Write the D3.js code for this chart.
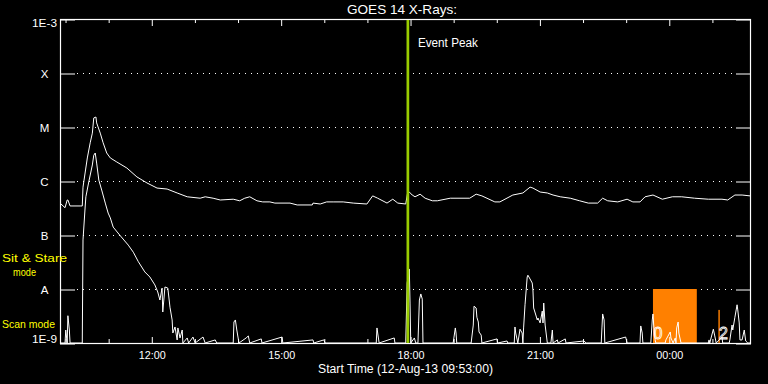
<!DOCTYPE html>
<html><head><meta charset="utf-8">
<script src="https://cdn.jsdelivr.net/npm/d3@7"></script>
<style>
html,body{margin:0;padding:0;background:#000;}
svg{display:block;background:#000;}
text{font-family:"Liberation Sans",Arial,sans-serif;}
</style></head><body>
<svg id="chart" width="768" height="384"></svg>
<script>
// ---------------- data ----------------
const titleText = "GOES 14 X-Rays:";
const startDate = [2013, 7, 12, 9, 53];   // 12-Aug-13 09:53
const endDate   = [2013, 7, 13, 1, 53];   // 13-Aug-13 01:53

// Long channel (1-8 A) flux, W/m^2
const longChannel = [
 ["09:53",3.9e-7],["10:00",3.2e-7],["10:03",4.45e-7],["10:04",4.45e-7],["10:07",3.45e-7],["10:21",3.45e-7],
 ["10:24",3.45e-7],["10:25",7.7e-7],["10:31",2.67e-6],["10:35",5.1e-6],["10:38",7.7e-6],["10:40",1.47e-5],
 ["10:43",1.53e-5],["10:44",1.19e-5],["10:49",7.7e-6],["10:53",5.1e-6],["10:58",3.3e-6],["11:03",2.67e-6],
 ["11:12",2.25e-6],["11:26",1.74e-6],["11:40",1.19e-6],["11:54",9.2e-7],["12:08",7.4e-7],["12:22",7.1e-7],
 ["12:36",6.0e-7],["12:50",5.1e-7],["13:08",4.8e-7],["13:15",5.1e-7],["13:26",4.8e-7],["13:36",4.45e-7],
 ["13:54",4.6e-7],["14:03",4.3e-7],["14:10",4.8e-7],["14:17",5.1e-7],["14:27",4.3e-7],["14:35",4.1e-7],
 ["14:45",4.1e-7],["14:52",3.9e-7],["15:13",3.9e-7],["15:23",3.6e-7],["15:44",3.6e-7],["15:45",3.9e-7],
 ["15:55",3.75e-7],["16:04",4.1e-7],["16:13",4.1e-7],["16:27",4.1e-7],["16:41",3.9e-7],["17:00",3.75e-7],
 ["17:08",5.3e-7],["17:15",4.8e-7],["17:28",3.9e-7],["17:36",4.6e-7],["17:43",3.9e-7],["17:54",3.75e-7],
 ["17:57",6.5e-7],["17:59",6.25e-7],["18:03",5.5e-7],["18:07",5.1e-7],["18:14",5.7e-7],["18:21",4.8e-7],
 ["18:31",4.3e-7],["18:38",4.3e-7],["18:56",4.8e-7],["19:23",4.8e-7],["19:32",5.7e-7],["19:40",5.3e-7],
 ["19:58",4.1e-7],["20:05",4.1e-7],["20:23",5.5e-7],["20:37",6.0e-7],["20:47",7.7e-7],["20:51",7.4e-7],
 ["21:01",6.25e-7],["21:11",6.0e-7],["21:19",5.5e-7],["21:29",5.1e-7],["21:43",4.8e-7],["21:56",4.3e-7],
 ["22:08",3.9e-7],["22:21",3.9e-7],["22:28",4.8e-7],["22:35",4.3e-7],["22:49",4.1e-7],["23:02",4.6e-7],
 ["23:10",4.1e-7],["23:20",4.1e-7],["23:27",5.1e-7],["23:38",5.5e-7],["23:51",4.6e-7],["00:05",5.1e-7],
 ["00:18",5.1e-7],["00:36",4.8e-7],["00:55",4.6e-7],["01:14",4.6e-7],["01:22",4.45e-7],["01:32",5.5e-7],
 ["01:42",5.5e-7],["01:53",5.3e-7]
];

// Short channel (0.5-4 A) flux, W/m^2 (1e-9 = at/below the bottom of the plot)
const shortChannel = [
 ["09:53",1e-9],["10:00",1e-9],["10:01",1.74e-9],["10:03",1e-9],["10:04",3.2e-9],["10:06",1.74e-9],["10:07",1e-9],
 ["10:22",1e-9],["10:24",1e-9],["10:25",8.1e-8],["10:28",3.3e-7],["10:29",5.1e-7],["10:33",9.6e-7],["10:38",1.98e-6],
 ["10:40",3.0e-6],["10:42",3.3e-6],["10:44",2.15e-6],["10:47",1.04e-6],["10:51",6.8e-7],["10:56",3.9e-7],
 ["11:00",2.55e-7],["11:03",2.07e-7],["11:07",1.4e-7],["11:16",1.0e-7],["11:28",6.5e-8],["11:35",4.8e-8],
 ["11:42",3.2e-8],["11:51",2.07e-8],["11:58",1.67e-8],["12:05",1.19e-8],["12:09",8.8e-9],["12:12",6.25e-9],
 ["12:15",1.04e-8],["12:16",3.75e-9],["12:19",1.09e-8],["12:23",1.04e-8],["12:26",4.6e-9],["12:29",2.67e-9],
 ["12:30",1.53e-9],["12:33",1.98e-9],["12:36",1.14e-9],["12:37",1.9e-9],["12:40",1.24e-9],["12:43",1.74e-9],
 ["12:44",1e-9],["12:50",1.24e-9],["12:52",1e-9],["12:58",1.29e-9],["13:01",1e-9],["13:12",1.29e-9],["13:15",1e-9],
 ["13:29",1.14e-9],["13:31",1e-9],["13:54",1e-9],["13:55",2.45e-9],["13:57",2.67e-9],["13:59",1.74e-9],["14:02",1e-9],
 ["14:12",1.24e-9],["14:15",1.35e-9],["14:17",1e-9],["14:33",1.19e-9],["14:34",1e-9],["15:02",1.29e-9],["15:03",1e-9],
 ["15:45",1.14e-9],["15:46",1e-9],["16:00",1.14e-9],["16:02",1e-9],["17:13",1e-9],["17:14",1.9e-9],["17:15",1.53e-9],
 ["17:17",1e-9],["17:38",1.24e-9],["17:39",1e-9],["17:54",1e-9],["17:56",1.29e-8],["17:59",2.35e-8],["18:00",5.5e-9],
 ["18:01",1e-9],["18:06",1.24e-9],["18:08",1e-9],["18:11",1e-9],["18:13",6.25e-9],["18:15",8.1e-9],["18:17",6.5e-9],
 ["18:18",1e-9],["19:00",1e-9],["19:03",1.9e-9],["19:04",1.53e-9],["19:05",1e-9],["19:25",1e-9],["19:28",2.15e-9],
 ["19:29",4.8e-9],["19:32",4.45e-9],["19:33",3.0e-9],["19:35",2.45e-9],["19:36",1.6e-9],["19:39",1.4e-9],["19:40",1e-9],
 ["20:01",1.19e-9],["20:02",1e-9],["20:15",1.09e-9],["20:16",1e-9],["20:25",1e-9],["20:26",1.98e-9],["20:27",1.53e-9],
 ["20:30",1e-9],["20:33",1.8e-9],["20:36",1.53e-9],["20:37",1e-9],["20:38",1.9e-9],["20:40",5.1e-9],["20:43",1.67e-8],
 ["20:44",1.8e-8],["20:47",1.53e-8],["20:50",1.29e-8],["20:51",9.6e-9],["20:52",4.45e-9],["20:55",3.3e-9],
 ["20:57",2.67e-9],["20:58",2.9e-9],["21:01",2.35e-9],["21:04",3.9e-9],["21:05",2.35e-9],["21:06",5.5e-9],
 ["21:08",2.15e-9],["21:11",1e-9],["21:16",1e-9],["21:18",1.74e-9],["21:19",1e-9],["21:25",1.14e-9],["21:26",1e-9],
 ["21:36",1.19e-9],["21:37",1e-9],["22:02",1.09e-9],["22:05",1e-9],["22:26",1e-9],["22:27",1.9e-9],["22:28",3.45e-9],
 ["22:30",2.67e-9],["22:31",1e-9],["23:00",1.29e-9],["23:02",1e-9],["23:20",1e-9],["23:21",2.07e-9],["23:23",1.53e-9],
 ["23:24",1e-9],["23:35",1e-9],["23:37",2.67e-9],["23:38",3.45e-9],["23:39",2.15e-9],["23:41",1.14e-9],["23:42",1e-9],
 ["23:55",1e-9],["23:56",1.14e-9],["00:02",1.6e-9],["00:03",1.24e-9],["00:06",1e-9],["00:09",1.24e-9],["00:10",1e-9],
 ["00:11",1.9e-9],["00:13",2.45e-9],["00:14",1.53e-9],["00:17",1e-9],["00:55",1e-9],["00:56",1.14e-9],["00:57",1e-9],
 ["01:02",1.8e-9],["01:04",1.35e-9],["01:06",1e-9],["01:14",1.29e-9],["01:15",1e-9],["01:24",1e-9],["01:25",1.14e-9],
 ["01:28",2.15e-9],["01:29",1.74e-9],["01:32",3.0e-9],["01:35",5.1e-9],["01:36",4.1e-9],["01:38",2.35e-9],
 ["01:39",1.14e-9],["01:42",1.14e-9],["01:45",1.74e-9],["01:47",1.09e-9],["01:50",1e-9],["01:53",1e-9]
];

const yTickValues = [1e-9, 1e-8, 1e-7, 1e-6, 1e-5, 1e-4, 1e-3];
const yTickLabels = ["1E-9", "A", "B", "C", "M", "X", "1E-3"];
const gridLevels  = [1e-8, 1e-7, 1e-6, 1e-5, 1e-4];

const eventPeakTime  = "17:57";
const eventPeakLabel = "Event Peak";

// scan-mode periods
const scanStarts = ["23:38", "01:09"];
const scanEnds   = ["00:39", "01:11"];
const scanLevels = [1e-8, 4.1e-9];
const scanLabels = ["0", "2"];

// ---------------- chart ----------------
const svg = d3.select("#chart");
const parseT = s => { const [h, m] = s.split(":").map(Number); return new Date(2013, 7, h < 9 ? 13 : 12, h, m); };
const t0 = new Date(...startDate), t1 = new Date(...endDate);

const L = 60, R = 750, T = 19, B = 343;
const x = d3.scaleTime().domain([t0, t1]).range([L, R]);
const y = d3.scaleLog().domain([1e-9, 1e-3]).range([B, T]).clamp(true);

svg.append("defs").append("clipPath").attr("id", "plot")
  .append("rect").attr("x", L).attr("y", T).attr("width", R - L).attr("height", B - T + 1);

// dotted grid lines
svg.append("g").selectAll("line").data(gridLevels).join("line")
  .attr("x1", 77).attr("x2", 736)
  .attr("y1", d => Math.round(y(d)) + 0.5).attr("y2", d => Math.round(y(d)) + 0.5)
  .attr("stroke", "#fff").attr("stroke-width", 1).attr("stroke-dasharray", "1,5");

// scan-mode bars
const scanG = svg.append("g").attr("clip-path", "url(#plot)");
scanG.selectAll("rect").data(scanStarts).join("rect")
  .attr("x", (d, i) => x(parseT(d)))
  .attr("width", (d, i) => x(parseT(scanEnds[i])) - x(parseT(d)))
  .attr("y", (d, i) => y(scanLevels[i]))
  .attr("height", (d, i) => B - y(scanLevels[i]))
  .attr("fill", "#ff8000");

// data lines
const line = d3.line().x(d => x(parseT(d[0]))).y(d => y(d[1]));
const dataG = svg.append("g").attr("clip-path", "url(#plot)");
[longChannel, shortChannel].forEach(series => {
  dataG.append("path").datum(series).attr("d", line)
    .attr("fill", "none").attr("stroke", "#fff").attr("stroke-width", 1)
    .attr("stroke-linejoin", "miter");
});

// scan labels
svg.append("g").selectAll("text").data(scanLabels).join("text")
  .attr("x", (d, i) => x(parseT(scanStarts[i])) + 0.5)
  .attr("y", 339)
  .attr("font-size", 16)
  .attr("fill", "none").attr("stroke", "#fff").attr("stroke-width", 0.8)
  .text(d => d);

// frame
svg.append("rect").attr("x", L + 0.5).attr("y", T + 0.5).attr("width", R - L).attr("height", B - T)
  .attr("fill", "none").attr("stroke", "#fff").attr("stroke-width", 1.2);

// x ticks (top and bottom)
const hourTicks = x.ticks(d3.timeHour.every(1));
const gTop = svg.append("g").attr("transform", `translate(0.5,${T})`).attr("color", "#fff")
  .call(d3.axisBottom(x).tickValues(hourTicks).tickSize(4).tickFormat(""));
gTop.select(".domain").remove();
gTop.selectAll(".tick line").attr("y2", d => d.getHours() % 3 === 0 ? 7 : 4);

const gBot = svg.append("g").attr("transform", `translate(0.5,${B + 1})`).attr("color", "#fff")
  .call(d3.axisTop(x).tickValues(hourTicks).tickSize(5).tickFormat(""));
gBot.select(".domain").remove();
gBot.selectAll(".tick line").attr("y2", d => d.getHours() % 3 === 0 ? -7 : -5);

// x tick labels
const gLab = svg.append("g").attr("transform", `translate(0.5,${B})`).attr("color", "#fff")
  .call(d3.axisBottom(x).tickValues(x.ticks(d3.timeHour.every(3))).tickSize(0).tickFormat(d3.timeFormat("%H:%M")));
gLab.select(".domain").remove();
gLab.selectAll(".tick text").attr("y", 16).attr("dy", 0).attr("font-size", 11.5)
  .attr("font-family", "Liberation Sans, Arial, sans-serif").attr("fill", "#fff")
  .attr("textLength", 27).attr("lengthAdjust", "spacingAndGlyphs");

// y ticks left & right
const gYL = svg.append("g").attr("transform", `translate(${L},0.5)`).attr("color", "#fff")
  .call(d3.axisRight(y).tickValues(yTickValues).tickSize(15).tickFormat(""));
gYL.select(".domain").remove();
const gYR = svg.append("g").attr("transform", `translate(${R + 1},0.5)`).attr("color", "#fff")
  .call(d3.axisLeft(y).tickValues(yTickValues).tickSize(15).tickFormat(""));
gYR.select(".domain").remove();

// y labels
svg.append("g").selectAll("text").data(yTickValues).join("text")
  .attr("x", (d, i) => yTickLabels[i].length > 1 ? 57 : 44.5)
  .attr("y", (d, i) => i === 0 ? y(d) : (i === yTickValues.length - 1 ? y(d) + 8 : y(d) + 5))
  .attr("text-anchor", (d, i) => yTickLabels[i].length > 1 ? "end" : "middle")
  .attr("font-size", 11.5).attr("fill", "#fff")
  .each(function(d, i) { if (yTickLabels[i].length > 1) d3.select(this).attr("textLength", 25).attr("lengthAdjust", "spacingAndGlyphs"); })
  .text((d, i) => yTickLabels[i]);

// mode labels
const modeG = svg.append("g").attr("fill", "#ffff00").attr("font-size", 11);
modeG.append("text").attr("x", 2).attr("y", 262).attr("textLength", 65).attr("lengthAdjust", "spacingAndGlyphs").text("Sit & Stare");
modeG.append("text").attr("x", 13).attr("y", 276).attr("textLength", 23).attr("lengthAdjust", "spacingAndGlyphs").text("mode");
modeG.append("text").attr("x", 2).attr("y", 328).attr("textLength", 53).attr("lengthAdjust", "spacingAndGlyphs").text("Scan mode");

// event peak
const xe = x(parseT(eventPeakTime));
svg.append("line").attr("x1", xe).attr("x2", xe).attr("y1", T + 1).attr("y2", B)
  .attr("stroke", "#99cc00").attr("stroke-width", 2.7);
svg.append("text").attr("x", xe + 10).attr("y", 47).attr("font-size", 12).attr("fill", "#fff")
  .attr("textLength", 60).attr("lengthAdjust", "spacingAndGlyphs").text(eventPeakLabel);

// title & x label
svg.append("text").attr("x", 347).attr("y", 14)
  .attr("font-size", 13).attr("fill", "#fff")
  .attr("textLength", 110).attr("lengthAdjust", "spacingAndGlyphs").text(titleText);
svg.append("text").attr("x", 318).attr("y", 373)
  .attr("font-size", 12).attr("fill", "#fff")
  .attr("textLength", 175).attr("lengthAdjust", "spacingAndGlyphs")
  .text("Start Time (" + d3.timeFormat("%d-%b-%y %H:%M:%S")(t0) + ")");
</script>
</body></html>
